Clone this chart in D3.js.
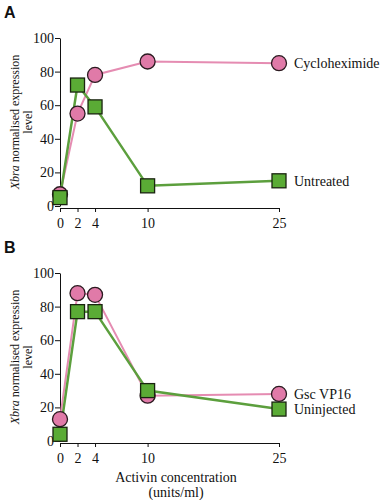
<!DOCTYPE html>
<html>
<head>
<meta charset="utf-8">
<script src="https://cdn.jsdelivr.net/npm/d3@7"></script>
<style>
  body { margin: 0; background: #fff; }
  svg text { font-family: 'Liberation Serif', 'Times New Roman', Times, serif; fill: #111; }
</style>
</head>
<body>
<svg id="chart"></svg>
<script>
// activin concentrations (units/ml)
const activin = [0, 2, 4, 10, 25];
const xTicks = [0, 2, 4, 10, 25];
const yTicks = [0, 20, 40, 60, 80, 100];

// panel A
const cycloheximide = [7, 55, 78, 86, 85];
const untreated = [5, 72, 59, 12, 15];
// panel B
const gscVP16 = [13, 88, 87, 27, 28];
const uninjected = [4, 77, 77, 30, 19];

const serif = "'Liberation Serif', 'Times New Roman', Times, serif";
const pink = "#e07aa8", pinkLine = "#e58cb2";
const green = "#5aab35", greenLine = "#5c9f3d";

const width = 387, height = 500;
const svg = d3.select("#chart").attr("width", width).attr("height", height)
    .attr("font-family", serif);

const x = d3.scaleLinear().domain([0, 25]).range([60, 279]);

function panel(letter, top, bottom, circleData, squareData, circleLabel, squareLabel) {
    const y = d3.scaleLinear().domain([0, 100]).range([bottom, top]);
    const g = svg.append("g");

    g.append("g")
        .attr("transform", `translate(0,${bottom + 2})`)
        .call(d3.axisBottom(x).tickValues(xTicks).tickSize(4).tickSizeOuter(0))
        .attr("font-family", serif)
        .call(a => a.select(".domain").attr("stroke", "#111"))
        .call(a => a.selectAll("line").attr("stroke", "#111"))
        .call(a => a.selectAll("text").attr("font-size", 14).attr("dy", "0.95em"));

    g.append("g")
        .attr("transform", `translate(60,0)`)
        .call(d3.axisLeft(y).tickValues(yTicks).tickSize(5).tickSizeOuter(0))
        .attr("font-family", serif)
        .call(a => a.select(".domain").attr("stroke", "#111"))
        .call(a => a.selectAll("line").attr("stroke", "#111"))
        .call(a => a.selectAll("text").attr("font-size", 14).attr("x", -6));

    // panel letter
    g.append("text")
        .attr("x", 4).attr("y", top - 20)
        .attr("font-size", 16).attr("font-weight", "bold")
        .style("font-family", "'Liberation Sans', Arial, sans-serif")
        .text(letter);

    // y title
    const cy = (top + bottom) / 2;
    const t1 = g.append("text")
        .attr("transform", `translate(19,${cy}) rotate(-90)`)
        .attr("text-anchor", "middle").attr("font-size", 12);
    t1.append("tspan").attr("font-style", "italic").text("Xbra");
    t1.append("tspan").text(" normalised expression");
    g.append("text")
        .attr("transform", `translate(32,${cy}) rotate(-90)`)
        .attr("text-anchor", "middle").attr("font-size", 12)
        .text("level");

    const line = d3.line().x((d, i) => x(activin[i])).y(d => y(d));

    g.append("path").datum(circleData)
        .attr("fill", "none").attr("stroke", pinkLine).attr("stroke-width", 2)
        .attr("d", line);
    g.append("path").datum(squareData)
        .attr("fill", "none").attr("stroke", greenLine).attr("stroke-width", 2.5)
        .attr("d", line);

    g.selectAll(".c").data(circleData).enter().append("circle")
        .attr("cx", (d, i) => x(activin[i]))
        .attr("cy", d => y(d))
        .attr("r", 7.5)
        .attr("fill", pink).attr("stroke", "#2b1a20").attr("stroke-width", 1.3);

    g.selectAll(".s").data(squareData).enter().append("rect")
        .attr("x", (d, i) => x(activin[i]) - 7)
        .attr("y", d => y(d) - 7)
        .attr("width", 14).attr("height", 14)
        .attr("fill", green).attr("stroke", "#1a2410").attr("stroke-width", 1.3);

    g.append("text")
        .attr("x", x(25) + 15).attr("y", y(circleData[4]))
        .attr("dy", "0.33em").attr("font-size", 14)
        .text(circleLabel);
    g.append("text")
        .attr("x", x(25) + 15).attr("y", y(squareData[4]))
        .attr("dy", "0.38em").attr("font-size", 14)
        .text(squareLabel);
}

panel("A", 38, 206, cycloheximide, untreated, "Cycloheximide", "Untreated");
panel("B", 273, 441, gscVP16, uninjected, "Gsc VP16", "Uninjected");

svg.append("text")
    .attr("x", 176).attr("y", 482)
    .attr("text-anchor", "middle").attr("font-size", 14)
    .text("Activin concentration");
svg.append("text")
    .attr("x", 176).attr("y", 497)
    .attr("text-anchor", "middle").attr("font-size", 14)
    .text("(units/ml)");
</script>
</body>
</html>
